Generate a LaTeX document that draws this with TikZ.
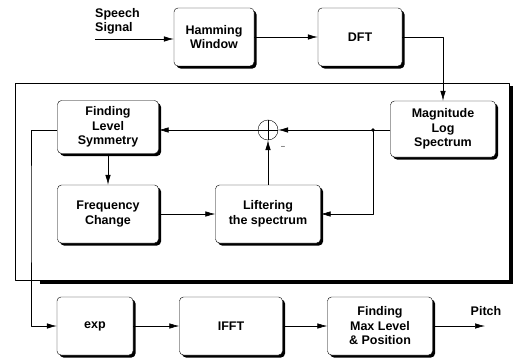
\documentclass[tikz,border=0pt]{standalone}
\usepackage{fontspec}
\setmainfont{Liberation Sans}
\usetikzlibrary{arrows.meta,shadows}
\tikzset{
	blk/.style={draw, rounded corners=4pt, fill=white, align=center, inner sep=1pt,
		minimum height=58pt, drop shadow={shadow xshift=2.5pt, shadow yshift=-2.5pt, fill=black, opacity=1}},
	lnk/.style={->, line width=0.6pt}
}
\begin{document}
\begin{tikzpicture}[x=1pt, y=-1pt, font=\bfseries\fontsize{12.5}{14.5}\selectfont, line join=round, >={Latex[length=10pt,width=5.5pt]}]
	\useasboundingbox (0,0) rectangle (519,361);
	\def\ra{10}  % bán kính nút cộng
	% khung lớn
	\fill (40,280) rectangle (512.5,283.5);
	\fill (509,86) rectangle (512.5,283.5);
	\draw[line width=0.6pt] (15,83) rectangle (509,280);
	% hàng trên
	\node[blk, minimum width=80pt] (ham) at (214,37) {Hamming\\Window};
	\node[blk, minimum width=84pt] (dft) at (360,37) {DFT};
	\node[align=left, anchor=north west, inner sep=0pt] (sig) at (95,8) {Speech\\Signal};
	\coordinate (in) at (95,39);
	% bên trong khung
	\node[blk, minimum width=105pt, minimum height=56pt] (mag) at (443,129) {Magnitude\\Log\\Spectrum};
	\node[blk, minimum width=101pt, minimum height=53pt] (sym) at (108,127) {Finding\\Level\\Symmetry};
	\node[blk, minimum width=101pt] (frq) at (108,214) {Frequency\\Change};
	\node[blk, minimum width=105pt] (lif) at (268,214) {Liftering\\the spectrum};
	\node[draw, circle, minimum size=2*\ra pt, inner sep=0pt] (sum) at (268,130) {};
	\draw (sum.north) -- (sum.south) (sum.west) -- (sum.east);
	\node[font=\scriptsize] (neg) at (283,147) {--};
	\coordinate (tap) at (373,130);
	\fill (tap) circle (1.8pt);
	% hàng dưới
	\node[blk, minimum width=76pt] (exp) at (95,326) {exp};
	\node[blk, minimum width=103pt] (ifft) at (231,326) {IFFT};
	\node[blk, minimum width=105pt] (max) at (380,326) {Finding\\Max Level\\\& Position};
	\node (pit) at (486,311) {Pitch};
	\coordinate (out) at (485,326);
	% mũi tên
	\draw[lnk] (in) -- (ham.west |- in);
	\draw[lnk] (ham) -- (dft);
	\draw[lnk] (dft.east) -| (mag.north);
	\draw[lnk] (mag.west |- tap) -- (sum.east);
	\draw[lnk] (tap) |- (lif.east);
	\draw[lnk] (lif.north) -- (sum.south);
	\draw[lnk] (sum.west) -- (sym.east |- sum);
	\draw[lnk] (sym) -- (frq);
	\draw[lnk] (frq) -- (lif);
	\draw[lnk] (sym.west |- 0,130) -| (31,200) |- (exp.west);
	\draw[lnk] (exp) -- (ifft);
	\draw[lnk] (ifft) -- (max);
	\draw[lnk] (max.east) -- (out);
\end{tikzpicture}
\end{document}
